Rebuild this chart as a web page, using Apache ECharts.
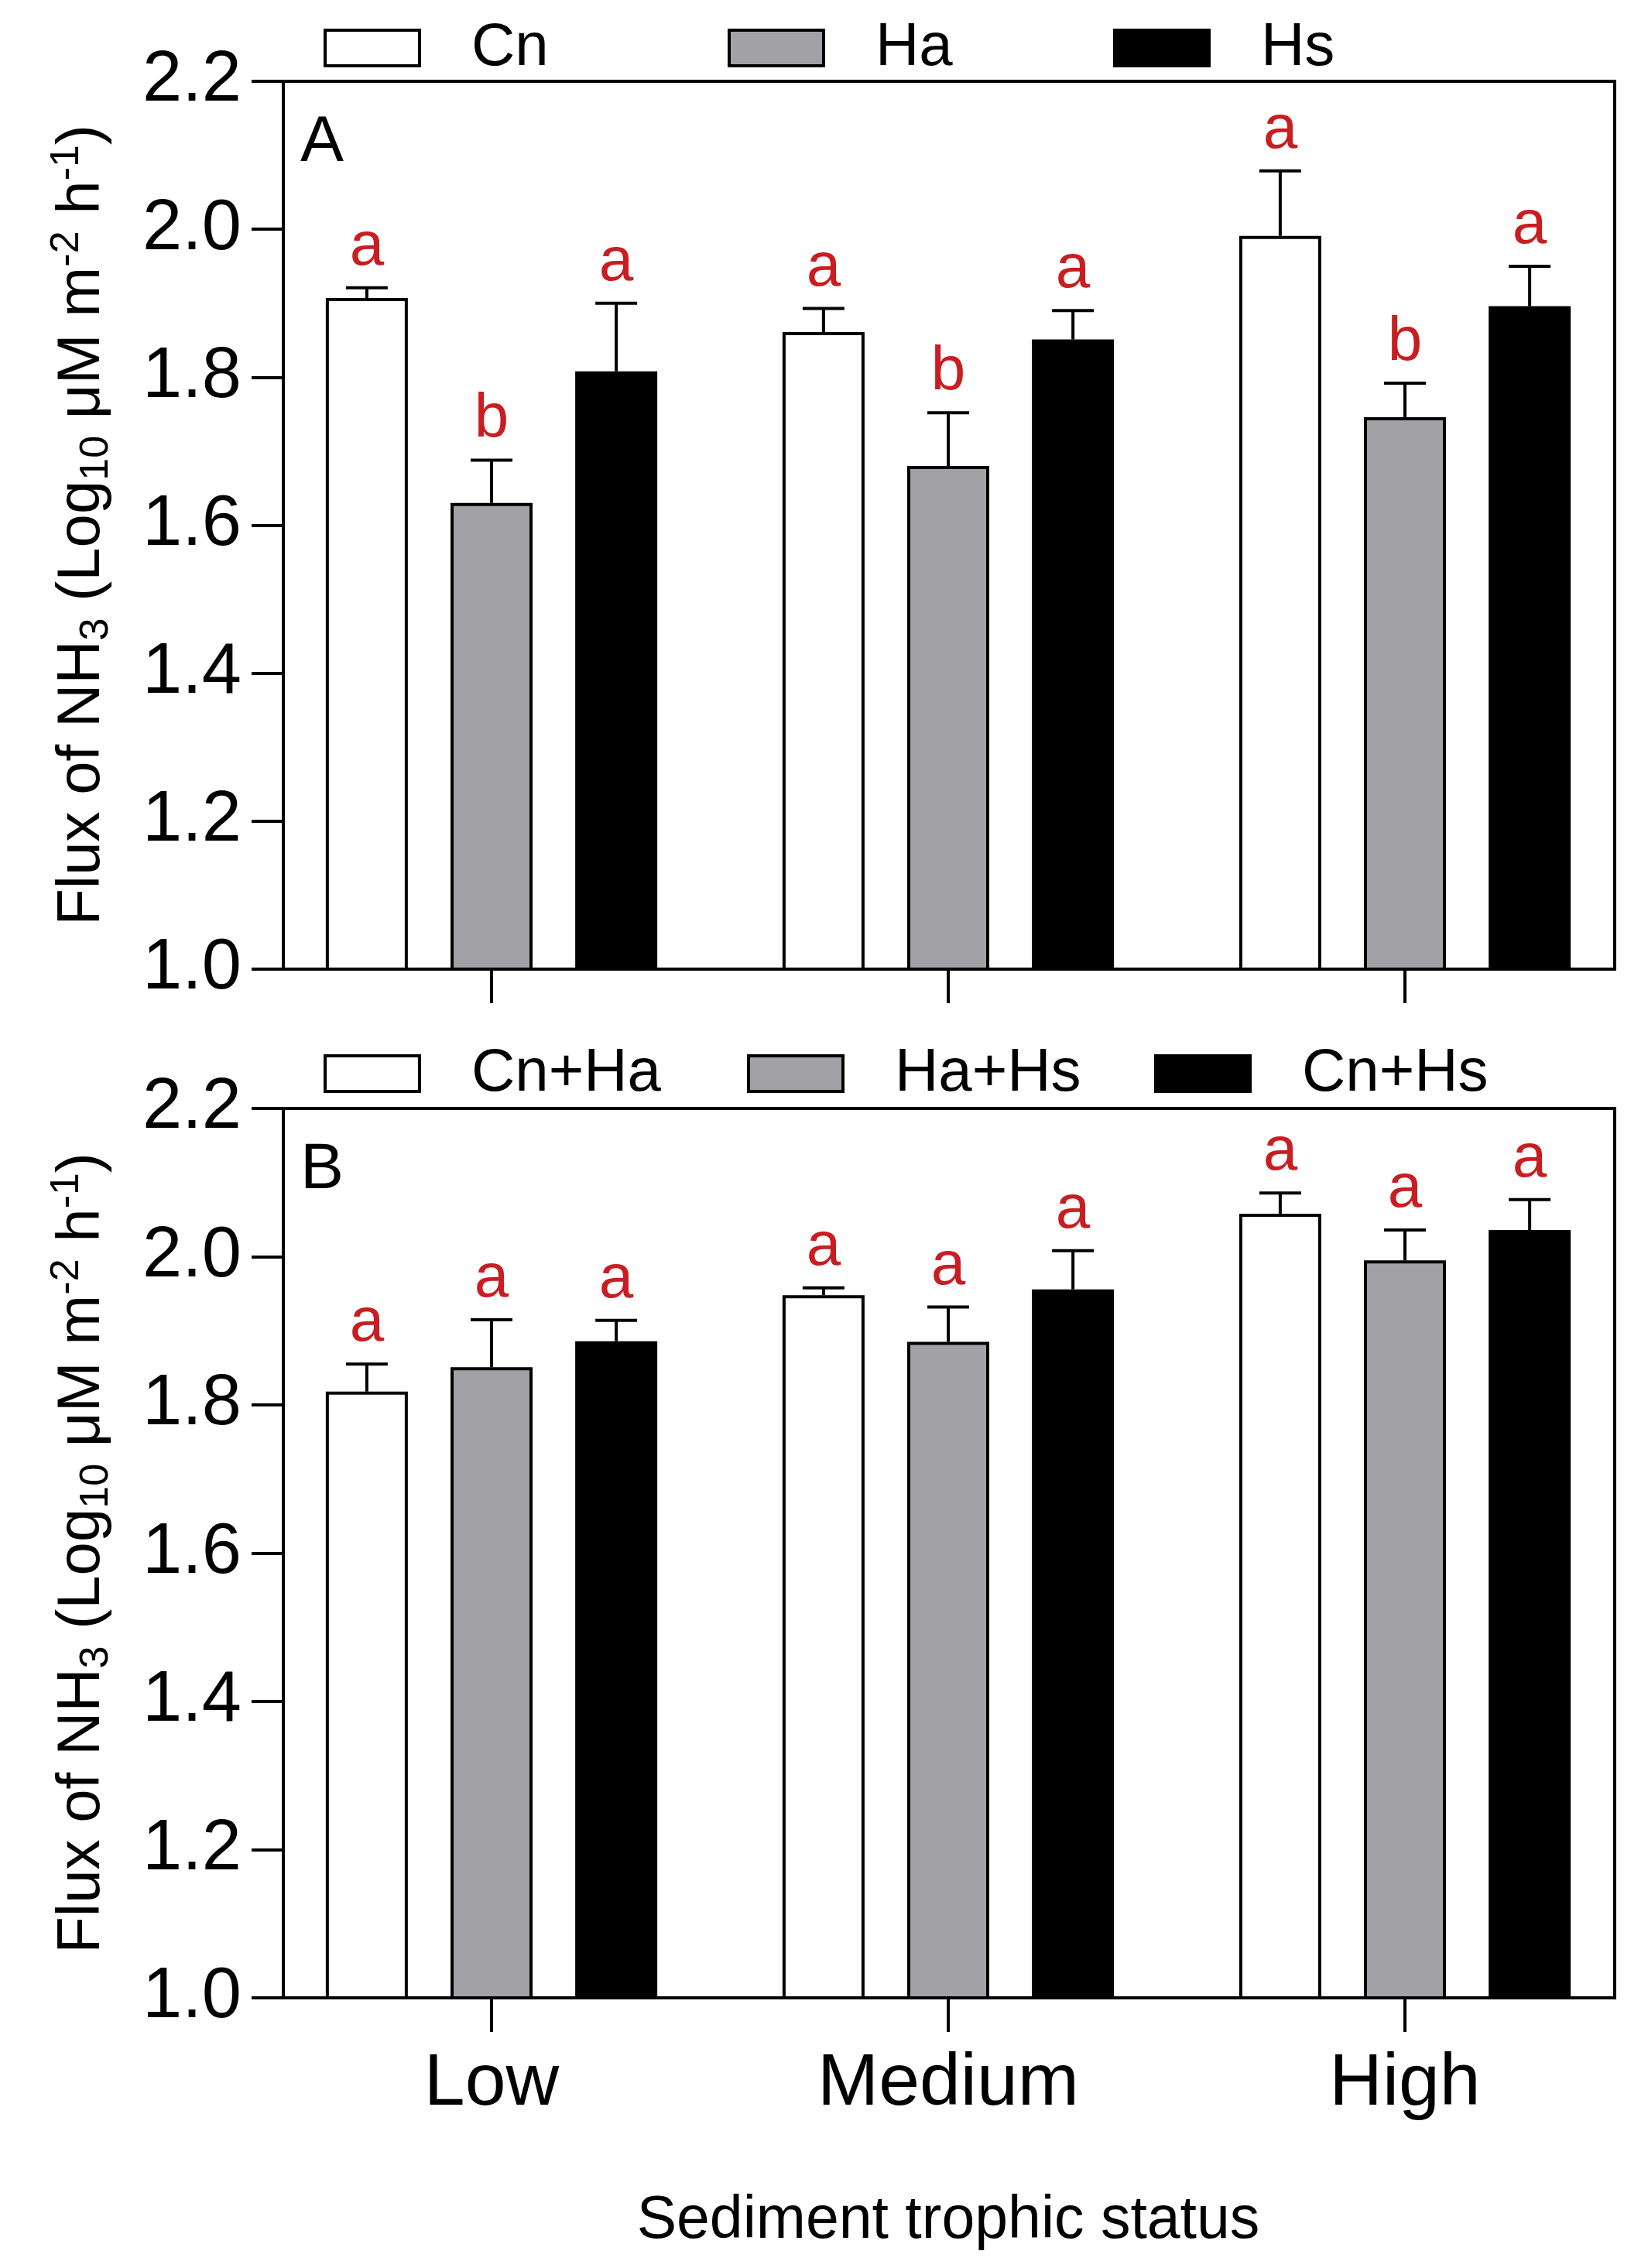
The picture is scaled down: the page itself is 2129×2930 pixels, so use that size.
<!DOCTYPE html>
<html>
<head>
<meta charset="utf-8">
<script src="https://cdn.jsdelivr.net/npm/echarts@6/dist/echarts.min.js"></script>
<style>
  html, body { margin: 0; padding: 0; background: #fff; }
  #chart { width: 2129px; height: 2930px; }
</style>
</head>
<body>
<div id="chart"></div>
<script>
// categories
const categories = ['Low', 'Medium', 'High']

// panel A : single treatments
const meanCn = [1.907, 1.861, 1.991]
const errCn = [0.014, 0.032, 0.088]
const meanHa = [1.630, 1.680, 1.746]
const errHa = [0.058, 0.072, 0.046]
const meanHs = [1.808, 1.851, 1.896]
const errHs = [0.092, 0.039, 0.054]
const letCn = ['a', 'a', 'a']
const letHa = ['b', 'b', 'b']
const letHs = ['a', 'a', 'a']

// panel B : paired treatments
const meanCnHa = [1.818, 1.948, 2.058]
const errCnHa = [0.037, 0.010, 0.028]
const meanHaHs = [1.851, 1.885, 1.995]
const errHaHs = [0.064, 0.047, 0.041]
const meanCnHs = [1.886, 1.956, 2.036]
const errCnHs = [0.028, 0.052, 0.041]
const letCnHa = ['a', 'a', 'a']
const letHaHs = ['a', 'a', 'a']
const letCnHs = ['a', 'a', 'a']

const FONT = 'Liberation Sans, Arial, sans-serif'
const RED = '#c81e22'
const GRAY = '#a2a2a6'
const BAR_W = 106
const PITCH = BAR_W * 1.52
const LW = 4

const panels = [
  { top: 105, height: 1147, names: ['Cn', 'Ha', 'Hs'], means: [meanCn, meanHa, meanHs],
    errs: [errCn, errHa, errHs], lets: [letCn, letHa, letHs], legendLeft: [413, 935, 1433],
    legendTop: 17, tag: 'A' },
  { top: 1432, height: 1149, names: ['Cn+Ha', 'Ha+Hs', 'Cn+Hs'], means: [meanCnHa, meanHaHs, meanCnHs],
    errs: [errCnHa, errHaHs, errCnHs], lets: [letCnHa, letHaHs, letCnHs], legendLeft: [413, 960, 1486],
    legendTop: 1342, tag: 'B' }
]
const colors = ['#ffffff', GRAY, '#000000']

function errRender(k, letters) {
  return function(params, api) {
    const base = api.coord([api.value(0), api.value(1)])
    const tip = api.coord([api.value(0), api.value(1) + api.value(2)])
    const cx = base[0] + (k - 1) * PITCH
    const st = { stroke: '#000', lineWidth: LW }
    return {
      type: 'group',
      children: [
        { type: 'line', shape: { x1: cx, y1: base[1], x2: cx, y2: tip[1] }, style: st },
        { type: 'line', shape: { x1: cx - 27, y1: tip[1], x2: cx + 27, y2: tip[1] }, style: st },
        { type: 'text', x: cx, y: tip[1] - 12,
          style: { text: letters[params.dataIndex], fill: RED, font: '80px ' + FONT,
            align: 'center', verticalAlign: 'bottom' } }
      ]
    }
  }
}

const yName = '{n|Flux of NH}{sub|3}{n| (Log}{sub|10}{n| \u03bcM m}{sup|-2}{n| h}{sup|-1}{n|)}'

const grid = [], xAxis = [], yAxis = [], series = [], legend = [], title = []

panels.forEach((p, pi) => {
  const g = pi * 2
  // frame grid with y axis
  grid.push({ left: 366, right: 43, top: p.top, height: p.height, show: true,
    borderColor: '#000', borderWidth: LW, backgroundColor: 'transparent' })
  // bars grid (slightly wider so that groups sit where they do in the figure)
  grid.push({ left: 340, right: 19, top: p.top, height: p.height })

  xAxis.push({ gridIndex: g, type: 'category', data: categories, show: false })
  xAxis.push({
    gridIndex: g + 1, type: 'category', data: categories,
    axisLine: { show: false },
    axisTick: { show: true, alignWithLabel: true, length: 44, lineStyle: { color: '#000', width: LW } },
    axisLabel: { show: pi === 1, fontSize: 95, color: '#000', fontFamily: FONT, margin: 64 },
    name: pi === 1 ? 'Sediment trophic status' : '',
    nameLocation: 'middle', nameGap: 250,
    nameTextStyle: { fontSize: 77, color: '#000', fontFamily: FONT }
  })

  yAxis.push({
    gridIndex: g, type: 'value', min: 1, max: 2.2, interval: 0.2,
    axisLine: { show: true, lineStyle: { color: '#000', width: LW } },
    axisTick: { show: true, length: 41, lineStyle: { color: '#000', width: LW } },
    splitLine: { show: false },
    axisLabel: { fontSize: 92, color: '#000', fontFamily: FONT, margin: 54,
      formatter: v => v.toFixed(1) },
    name: yName, nameLocation: 'middle', nameRotate: 90, nameGap: 215,
    nameTextStyle: {
      rich: {
        n: { fontSize: 78, fontFamily: FONT, color: '#000', lineHeight: 90, verticalAlign: 'middle' },
        sub: { fontSize: 52, fontFamily: FONT, color: '#000', lineHeight: 52, verticalAlign: 'bottom' },
        sup: { fontSize: 52, fontFamily: FONT, color: '#000', lineHeight: 52, verticalAlign: 'top' }
      }
    }
  })
  yAxis.push({ gridIndex: g + 1, type: 'value', min: 1, max: 2.2, interval: 0.2, show: false })

  p.names.forEach((name, k) => {
    series.push({
      name: name, type: 'bar', xAxisIndex: g + 1, yAxisIndex: g + 1,
      data: p.means[k], barWidth: BAR_W, barGap: '52%',
      itemStyle: { color: colors[k], borderColor: '#000', borderWidth: LW },
      animation: false
    })
    series.push({
      name: 'err' + pi + k, type: 'custom', xAxisIndex: g + 1, yAxisIndex: g + 1,
      data: p.means[k].map((m, i) => [i, m, p.errs[k][i]]),
      renderItem: errRender(k, p.lets[k]), z: 5, animation: false
    })
    legend.push({
      data: [name], left: p.legendLeft[k], top: p.legendTop,
      icon: 'rect', itemWidth: 122, itemHeight: 46,
      itemStyle: { borderColor: '#000', borderWidth: LW },
      textStyle: { fontSize: 78, fontFamily: FONT, color: '#000', lineHeight: 80, padding: [0, 0, 0, 62] },
      selectedMode: false
    })
  })

  title.push({ text: p.tag, left: 388, top: p.top + 38, padding: 0,
    textStyle: { fontSize: 84, fontWeight: 'normal', fontFamily: FONT, color: '#000' } })
})

const chart = echarts.init(document.getElementById('chart'))
chart.setOption({
  backgroundColor: '#fff',
  animation: false,
  title: title,
  legend: legend,
  grid: grid,
  xAxis: xAxis,
  yAxis: yAxis,
  series: series
})
</script>
</body>
</html>
